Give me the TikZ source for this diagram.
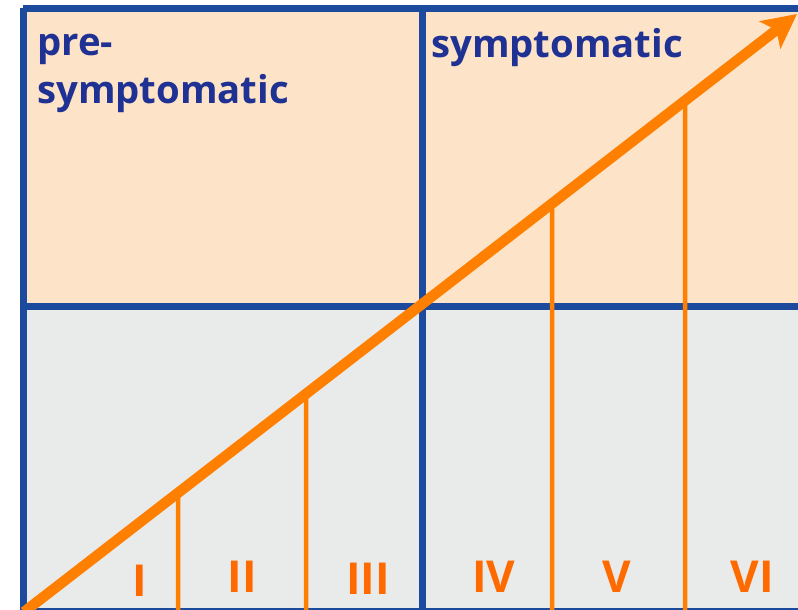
\documentclass[tikz,border=0pt]{standalone}
\usepackage{fontspec}
\setmainfont{Open Sans}
\usetikzlibrary{arrows.meta,calc}
\definecolor{peach}{HTML}{FDE3C8}
\definecolor{greyfill}{HTML}{E9EAEA}
\definecolor{gridblue}{HTML}{1C4A9C}
\definecolor{textblue}{HTML}{1F3192}
\definecolor{orangeline}{HTML}{FF7F00}
\definecolor{orangetext}{HTML}{FF6A00}
\tikzset{
  gridline/.style={draw=gridblue, line width=7pt},
  divider/.style={draw=orangeline, line width=4.5pt},
  phase/.style={text=orangetext, font=\bfseries\fontsize{44}{44}\selectfont, inner sep=0pt},
  heading/.style={text=textblue, font=\bfseries\fontsize{38.3}{48}\selectfont, inner sep=0pt, anchor=base west, align=left},
}
\begin{document}
\begin{tikzpicture}[x=1pt,y=-1pt]
\useasboundingbox (0,0) rectangle (798,610);
\clip (0,0) rectangle (798,610);
% fills
\fill[peach] (23,8.5) rectangle (798,306);
\fill[greyfill] (23,306) rectangle (798,610);
% grid coordinates
\coordinate (tl) at (23,8.5);
\coordinate (tr) at (800,8.5);
\coordinate (bl) at (23,610);
\coordinate (br) at (800,610);
\coordinate (ml) at (23,306);
\coordinate (mr) at (800,306);
\coordinate (mt) at (422.5,8.5);
\coordinate (mb) at (422.5,610);
\draw[gridline] (tl) -- (tr);
\draw[gridline] (tl) -- (bl);
\draw[gridline] (ml) -- (mr);
\draw[gridline] (mt) -- (mb);
\draw[draw=gridblue, line width=5pt] (bl) -- (br);
% diagonal
\coordinate (ds) at (24,612);
\coordinate (de) at (797,14);
% dividers
\foreach \n/\x in {a/178,b/306,c/552,d/685}{
  \coordinate (\n bot) at (\x,610);
  \coordinate (\n top) at (intersection of ds--de and {\x,0}--{\x,610});
  \draw[divider] (\n top) -- (\n bot);
}
\draw[draw=orangeline, line width=10.5pt, -{Stealth[length=34pt,width=34pt,inset=8pt]}] (ds) -- (de);
% headings
\node[heading] (pre) at (37,103) {pre-\\symptomatic};
\node[heading] (sym) at (431,58) {symptomatic};
% phase labels
\node[phase] (p1) at (140,581) {I};
\node[phase] (p2) at (242,577) {II};
\node[phase] (p3) at (368,579) {III};
\node[phase] (p4) at (494,577) {IV};
\node[phase] (p5) at (617,577) {V};
\node[phase] (p6) at (752,577) {VI};
\end{tikzpicture}
\end{document}
